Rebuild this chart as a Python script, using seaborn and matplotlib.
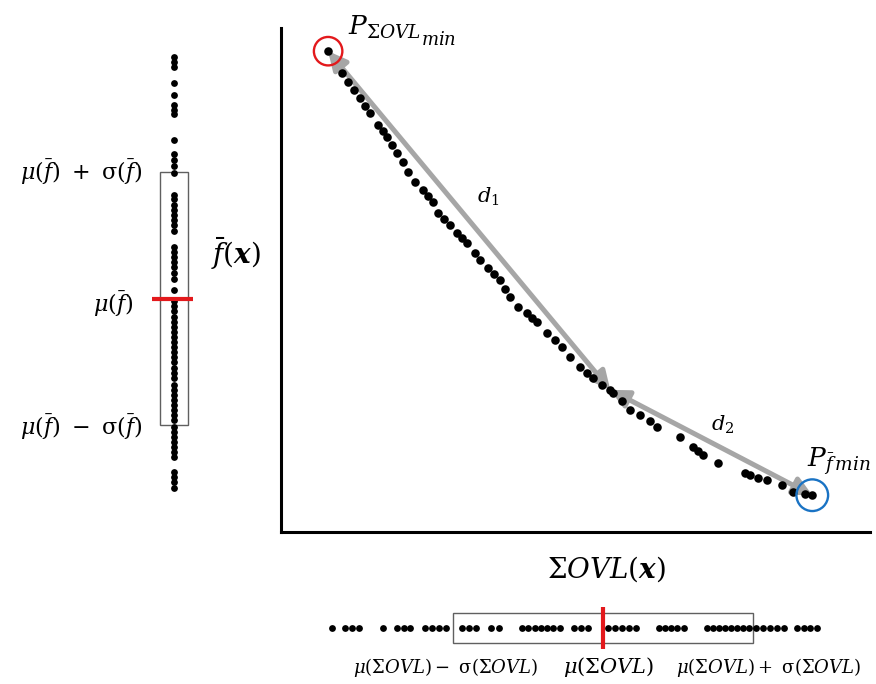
import numpy as np
import pandas as pd
import matplotlib
matplotlib.use("Agg")
import matplotlib.pyplot as plt
from matplotlib.patches import Rectangle
from matplotlib.transforms import offset_copy
import seaborn as sns

# Pareto front: summed overlap (ΣOVL) against mean objective (f̄)
ovl = [8.0, 10.4, 11.4, 12.4, 13.4, 14.3, 15.1, 16.5, 17.3, 18.0, 18.8, 19.7,
       20.7, 21.6, 22.8, 24.1, 25.0, 25.8, 26.7, 27.7, 28.7, 29.9, 30.7, 31.6,
       32.9, 33.8, 35.1, 36.2, 37.2, 38.0, 38.9, 40.2, 41.8, 42.6, 43.5, 45.2,
       46.5, 47.7, 49.1, 50.8, 52.0, 53.0, 54.5, 55.9, 56.4, 57.9, 59.3, 61.0,
       62.6, 63.8, 67.7, 70.0, 70.8, 71.6, 74.2, 78.8, 79.6, 81.0, 82.5, 85.1,
       86.9, 89.0, 90.2]
fbar = [95.4, 91.1, 89.3, 87.7, 86.1, 84.5, 83.1, 80.8, 79.6, 78.4, 76.8, 75.2,
        73.4, 71.4, 69.4, 67.9, 66.7, 65.5, 63.3, 62.1, 60.9, 59.3, 58.3, 57.3,
        55.4, 54.0, 52.4, 51.2, 50.0, 48.2, 46.6, 44.6, 43.5, 42.5, 41.7, 39.5,
        38.1, 36.7, 34.7, 32.7, 31.5, 30.6, 29.2, 28.2, 27.6, 26.0, 24.2, 23.2,
        22.0, 20.8, 18.8, 16.9, 16.1, 15.3, 13.7, 11.7, 11.3, 10.7, 10.3, 9.3,
        7.9, 7.5, 7.3]
knee_index = 43

# One-dimensional spread of each objective
f_strip = [94.2, 93.3, 92.3, 89.1, 86.7, 84.7, 83.7, 82.9, 77.8, 75.0, 73.8,
           72.6, 71.2, 66.9, 66.1, 64.9, 63.9, 62.9, 61.9, 60.9, 59.7, 56.5,
           55.6, 54.6, 53.6, 52.6, 51.4, 50.2, 48.0, 45.8, 44.8, 43.8, 42.7,
           41.7, 40.7, 39.7, 38.7, 37.7, 36.7, 35.7, 34.7, 33.7, 32.5, 31.5,
           30.6, 29.2, 28.2, 27.2, 26.2, 25.2, 24.2, 23.2, 22.2, 20.8, 19.8,
           18.8, 17.9, 16.9, 15.9, 14.9, 11.9, 10.9, 9.9, 8.7]
f_mean, f_std = 46.3, 25.1

ovl_strip = [8.7, 10.9, 12.1, 13.2, 17.3, 19.7, 20.9, 21.9, 24.4, 25.6, 26.8,
             28.0, 30.7, 31.9, 33.1, 35.7, 37.0, 40.9, 41.9, 43.1, 44.1, 45.2,
             46.2, 47.4, 49.7, 50.9, 52.1, 55.5, 56.7, 57.9, 59.1, 60.3, 64.2,
             65.2, 66.2, 67.2, 68.4, 72.3, 73.3, 74.4, 75.4, 76.4, 77.4, 78.4,
             79.5, 80.6, 81.8, 83.0, 84.2, 85.4, 87.6, 88.8, 89.8, 91.0]
ovl_mean, ovl_std = 54.7, 25.5

front = pd.DataFrame({"ovl": ovl, "fbar": fbar})

sns.set_theme(style="white")
plt.rcParams["mathtext.fontset"] = "dejavuserif"
plt.rcParams["font.family"] = ["DejaVu Serif", "DejaVu Sans"]
plt.rcParams["text.color"] = "black"

W, H = 876, 684
fig = plt.figure(figsize=(W / 100, H / 100), dpi=100)
fig.patch.set_facecolor("white")
renderer = fig.canvas.get_renderer()


def px_axes(x0, y0, x1, y1):
    """Axes spanning a pixel box (top-left origin)."""
    return fig.add_axes([x0 / W, 1 - y1 / H, (x1 - x0) / W, (y1 - y0) / H])


def chained_text(ax, x, y, parts):
    """Write pieces one after another: (text, size, baseline shift in pt)."""
    dx = 0.0
    for s, size, dy in parts:
        tr = offset_copy(ax.transData, fig=fig, x=dx, y=dy, units="points")
        t = ax.text(x, y, s, fontsize=size, ha="left", va="baseline",
                    transform=tr, clip_on=False, color="black")
        dx += t.get_window_extent(renderer).width * 72 / fig.dpi


ax = px_axes(281, 28, 870, 532)
ax_f = px_axes(144, 28, 204, 532)
ax_o = px_axes(281, 600, 870, 656)

GREY = "#a6a6a6"
RED = "#e3191c"
BLUE = "#1a73c4"
BOX = "#606060"

# ---- main scatter -------------------------------------------------------
ax.set_xlim(0, 100)
ax.set_ylim(0, 100)
sns.scatterplot(data=front, x="ovl", y="fbar", ax=ax, color="black", s=38,
                linewidth=0, zorder=3, legend=False)

p_ovl = (ovl[0], fbar[0])
p_knee = (ovl[knee_index], fbar[knee_index])
p_f = (ovl[-1], fbar[-1])
arrow = dict(arrowstyle="<|-|>,head_length=0.9,head_width=0.45", color=GREY,
             lw=3.6, shrinkA=0, shrinkB=0)
ax.annotate("", xy=p_knee, xytext=p_ovl, arrowprops=arrow, zorder=2)
ax.annotate("", xy=p_f, xytext=p_knee, arrowprops=arrow, zorder=2)

ax.scatter([p_ovl[0]], [p_ovl[1]], s=420, facecolors="none", edgecolors=RED,
           linewidths=1.7, zorder=4, clip_on=False)
ax.scatter([p_f[0]], [p_f[1]], s=520, facecolors="none", edgecolors=BLUE,
           linewidths=1.7, zorder=4, clip_on=False)

chained_text(ax, 11.4, 98.6, [(r"$P_{\Sigma OVL}$", 19, 0),
                              (r"$min$", 13, -7)])
ax.text(89.3, 12.9, r"$P_{\bar{f}\,min}$", fontsize=19, ha="left",
        va="baseline", clip_on=False)
ax.text(35.1, 66.5, r"$d_1$", fontsize=15, ha="center", va="center")
ax.text(75.0, 21.2, r"$d_2$", fontsize=15, ha="center", va="center")

ax.text(0.552, -0.073, r"$\Sigma OVL(\boldsymbol{x})$", fontsize=20,
        ha="center", va="center", transform=ax.transAxes)
ax.text(-0.076, 0.552, r"$\bar{f}(\boldsymbol{x})$", fontsize=20,
        ha="center", va="center", transform=ax.transAxes)

ax.set_xticks([])
ax.set_yticks([])
ax.set_xlabel("")
ax.set_ylabel("")
for side in ("top", "right"):
    ax.spines[side].set_visible(False)
for side in ("left", "bottom"):
    ax.spines[side].set_visible(True)
    ax.spines[side].set_color("black")
    ax.spines[side].set_linewidth(2.2)

# ---- f̄ strip --------------------------------------------------------------
ax_f.set_xlim(-1, 1)
ax_f.set_ylim(0, 100)
ax_f.add_patch(Rectangle((-0.47, f_mean - f_std), 0.94, 2 * f_std,
                         facecolor="none", edgecolor=BOX, lw=1.0, zorder=1))
sns.scatterplot(x=np.zeros(len(f_strip)), y=f_strip, ax=ax_f, color="black",
                s=24, linewidth=0, zorder=2, legend=False)
ax_f.plot([-0.72, 0.62], [f_mean, f_mean], color=RED, lw=3, zorder=3,
          solid_capstyle="butt")
ax_f.text(-1.07, f_mean + f_std,
          r"$\mu(\bar{f})\ +\ \mathrm{\sigma}(\bar{f})$",
          fontsize=16, ha="right", va="center", clip_on=False)
ax_f.text(-1.37, f_mean - 1.0, r"$\mu(\bar{f})$",
          fontsize=16, ha="right", va="center", clip_on=False)
ax_f.text(-1.07, f_mean - f_std - 0.4,
          r"$\mu(\bar{f})\ -\ \mathrm{\sigma}(\bar{f})$",
          fontsize=16, ha="right", va="center", clip_on=False)
ax_f.set_axis_off()

# ---- ΣOVL strip -----------------------------------------------------------
ax_o.set_xlim(0, 100)
ax_o.set_ylim(-1, 1)
ax_o.add_patch(Rectangle((ovl_mean - ovl_std, -0.54), 2 * ovl_std, 1.08,
                         facecolor="none", edgecolor=BOX, lw=1.0, zorder=1))
sns.scatterplot(x=ovl_strip, y=np.zeros(len(ovl_strip)), ax=ax_o,
                color="black", s=24, linewidth=0, zorder=2, legend=False)
ax_o.plot([ovl_mean, ovl_mean], [-0.75, 0.75], color=RED, lw=3, zorder=3,
          solid_capstyle="butt")
ax_o.annotate(r"$\mu(\Sigma OVL)-\ \mathrm{\sigma}(\Sigma OVL)$",
              (ovl_mean - ovl_std, -1.4), xytext=(-5, 0),
              textcoords="offset points", fontsize=13, ha="center",
              va="center", annotation_clip=False)
ax_o.annotate(r"$\mu(\Sigma OVL)$", (ovl_mean, -1.4), xytext=(4, 0),
              textcoords="offset points", fontsize=15, ha="center",
              va="center", annotation_clip=False)
ax_o.annotate(r"$\mu(\Sigma OVL)+\ \mathrm{\sigma}(\Sigma OVL)$",
              (ovl_mean + ovl_std, -1.4), xytext=(11, 0),
              textcoords="offset points", fontsize=13, ha="center",
              va="center", annotation_clip=False)
ax_o.set_axis_off()

fig.savefig("out.png", dpi=100, facecolor="white")
